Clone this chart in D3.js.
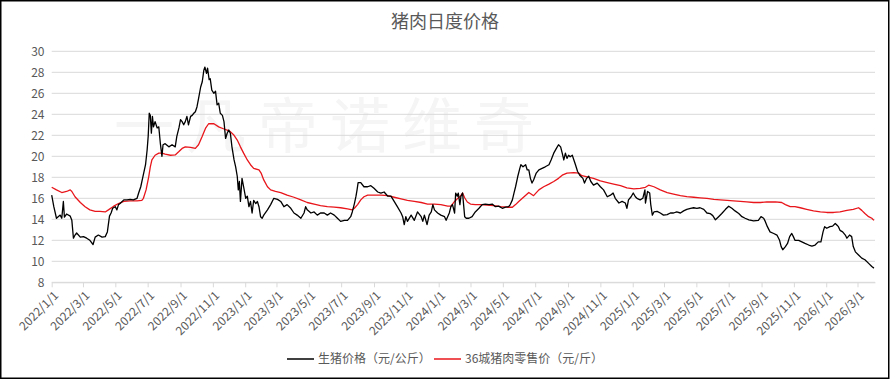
<!DOCTYPE html>
<html><head><meta charset="utf-8">
<script src="https://cdn.jsdelivr.net/npm/d3@7"></script>
<style>body{margin:0;background:#fff}svg{display:block}</style>
</head><body>
<svg id="c" width="890" height="379"></svg>
<script>
const chartTitle = "猪肉日度价格";
const watermark = "一凡帝诺维奇";
const baseDate = "2022-01-01";           // day 0 of the day offsets below
const axisEndDay = 1553;
const seriesNames = ["生猪价格（元/公斤）", "36城猪肉零售价（元/斤）"];
const yTicks = [8, 10, 12, 14, 16, 18, 20, 22, 24, 26, 28, 30];
const xTickLabels = ["2022/1/1","2022/3/1","2022/5/1","2022/7/1","2022/9/1","2022/11/1",
  "2023/1/1","2023/3/1","2023/5/1","2023/7/1","2023/9/1","2023/11/1",
  "2024/1/1","2024/3/1","2024/5/1","2024/7/1","2024/9/1","2024/11/1",
  "2025/1/1","2025/3/1","2025/5/1","2025/7/1","2025/9/1","2025/11/1",
  "2026/1/1","2026/3/1"];

// [day offset from baseDate, 生猪价格 元/公斤]
const hogPoints = [
[0,16.3],[4,15.2],[9,14.1],[16,14.4],[19,14.1],[22,15.7],[24,14.2],[28,14.5],[35,14.3],[38,13.9],
[41,12.2],[44,12.5],[47,12.7],[54,12.3],[60,12.35],[66,12.2],[72,12.0],[78,11.6],[82,12.3],[88,12.5],
[95,12.3],[101,12.35],[105,12.8],[109,14.3],[112,14.6],[115,15.05],[120,15.2],[123,14.9],[126,15.4],[129,15.5],
[136,15.85],[142,15.85],[148,15.9],[154,15.85],[161,16.0],[164,16.5],[168,17.1],[172,18.05],[177,19.2],[180,20.6],
[182,21.9],[184,24.1],[186,23.9],[188,22.2],[190,23.8],[192,22.8],[195,23.3],[199,22.7],[202,22.8],[205,21.2],
[208,20.0],[210,21.1],[214,21.2],[221,20.9],[227,21.1],[233,20.9],[236,21.9],[240,22.7],[243,23.5],[246,23.3],
[249,23.0],[252,23.3],[255,23.8],[258,23.0],[262,23.8],[265,23.9],[268,24.1],[271,24.25],[274,24.7],[277,25.5],
[281,26.6],[284,27.1],[287,28.2],[289,28.5],[292,27.9],[294,28.4],[297,27.3],[299,27.4],[302,26.3],[306,26.0],
[309,26.2],[312,24.9],[315,25.05],[318,24.1],[322,23.9],[325,23.3],[328,21.7],[331,22.2],[334,22.5],[337,22.2],
[340,20.9],[344,19.65],[347,19.0],[350,18.1],[352,16.8],[354,17.6],[356,15.7],[359,17.9],[362,17.1],[366,16.0],
[369,16.2],[372,15.2],[375,15.7],[378,14.6],[381,15.8],[385,15.5],[388,15.7],[391,15.2],[394,14.25],[397,14.1],
[400,14.4],[407,14.9],[413,15.4],[419,16.0],[426,15.9],[432,15.7],[438,15.2],[444,15.4],[451,15.05],[457,14.6],
[463,14.4],[470,14.1],[476,14.6],[479,15.2],[482,14.9],[489,14.6],[495,14.7],[501,14.4],[507,14.6],[514,14.6],
[520,14.4],[526,14.6],[533,14.4],[539,14.1],[545,13.8],[552,13.9],[558,13.9],[564,14.25],[567,14.7],[571,15.5],
[574,16.2],[576,16.8],[578,17.5],[583,17.5],[589,17.1],[596,17.1],[602,17.2],[608,16.95],[615,16.6],[621,16.5],
[627,16.6],[634,16.2],[640,16.2],[646,15.7],[652,15.2],[659,14.6],[662,14.25],[665,13.5],[668,14.25],[671,13.8],
[678,14.4],[684,13.9],[690,14.7],[697,14.25],[700,13.8],[703,14.4],[708,13.5],[712,14.4],[716,14.7],[719,15.4],
[722,14.9],[728,14.6],[734,14.4],[741,14.25],[744,13.9],[750,14.6],[753,15.2],[756,15.4],[760,14.6],[762,16.5],
[765,16.2],[767,16.5],[770,15.4],[772,16.2],[775,16.5],[779,14.25],[782,14.1],[787,14.1],[793,14.25],[799,14.7],
[806,15.05],[812,15.4],[818,15.45],[825,15.4],[831,15.45],[837,15.2],[843,15.25],[850,15.05],[856,15.15],[862,15.2],
[865,15.4],[869,15.85],[872,16.5],[875,17.1],[879,18.05],[883,18.85],[885,19.2],[889,19.0],[894,19.2],[897,18.7],
[900,18.7],[903,17.9],[906,17.45],[909,17.75],[914,18.4],[919,18.7],[925,18.85],[931,19.0],[938,19.2],[942,19.65],
[947,20.3],[952,20.75],[956,21.1],[960,20.9],[963,20.3],[966,19.65],[969,20.3],[972,19.8],[975,20.1],[978,19.95],
[982,20.1],[985,19.65],[988,19.2],[992,18.55],[996,18.2],[999,18.05],[1002,17.9],[1005,17.45],[1009,17.9],[1013,18.1],
[1017,17.6],[1022,17.25],[1029,17.45],[1035,17.1],[1041,16.8],[1048,16.15],[1054,16.3],[1059,16.5],[1063,16.0],[1070,15.55],
[1076,15.7],[1082,15.55],[1085,15.05],[1088,15.85],[1093,16.15],[1097,16.5],[1101,16.15],[1104,16.0],[1110,15.85],[1115,16.0],
[1119,16.8],[1120,15.55],[1124,16.65],[1128,16.5],[1130,15.4],[1133,14.4],[1136,14.7],[1142,14.75],[1148,14.6],[1154,14.4],
[1161,14.45],[1167,14.6],[1173,14.6],[1179,14.7],[1186,14.6],[1192,14.8],[1198,14.95],[1205,15.05],[1211,15.1],[1217,15.05],
[1223,15.1],[1230,14.95],[1236,14.6],[1242,14.55],[1247,14.35],[1252,13.95],[1258,14.25],[1264,14.55],[1271,14.95],[1277,15.25],
[1283,15.05],[1289,14.8],[1296,14.55],[1302,14.25],[1308,14.1],[1315,13.95],[1324,13.85],[1333,13.9],[1338,14.25],[1343,14.1],
[1346,13.8],[1350,13.3],[1355,12.8],[1362,12.65],[1368,12.5],[1373,12.0],[1376,11.4],[1379,11.1],[1384,11.4],[1388,11.7],
[1392,12.35],[1396,12.65],[1399,12.35],[1402,12.0],[1409,12.0],[1415,11.85],[1421,11.7],[1428,11.55],[1434,11.45],[1440,11.55],
[1446,11.85],[1451,11.85],[1455,12.8],[1458,13.3],[1462,13.15],[1468,13.3],[1473,13.35],[1478,13.6],[1481,13.45],[1484,13.3],
[1487,12.95],[1492,12.8],[1497,12.5],[1500,12.2],[1505,12.5],[1509,12.35],[1512,11.4],[1516,10.9],[1522,10.6],[1528,10.3],
[1534,10.15],[1541,9.8],[1547,9.5],[1551,9.35]
];

// [day offset from baseDate, 36城猪肉零售价 元/斤]
const retailPoints = [
[0,17.05],[9,16.8],[19,16.55],[28,16.65],[35,16.8],[38,16.65],[44,16.15],[54,15.6],[63,15.2],[72,14.9],
[82,14.75],[91,14.75],[101,14.7],[107,14.9],[117,15.25],[126,15.5],[136,15.7],[148,15.75],[161,15.75],[170,15.8],
[173,16.0],[178,16.8],[183,18.05],[186,19.0],[189,19.65],[195,20.1],[202,20.3],[208,20.3],[214,20.2],[224,20.1],
[233,20.13],[240,20.45],[246,20.75],[252,20.9],[262,20.85],[271,20.75],[277,21.1],[284,21.9],[290,22.65],[296,23.1],
[306,23.1],[315,22.8],[325,22.6],[331,22.5],[337,22.35],[344,22.0],[350,21.55],[356,20.9],[362,20.3],[369,19.65],
[375,19.2],[381,18.85],[391,18.7],[395,18.4],[400,17.75],[407,17.1],[413,16.8],[422,16.65],[432,16.55],[444,16.3],
[457,16.1],[470,15.85],[482,15.6],[495,15.45],[507,15.3],[520,15.2],[533,15.15],[545,15.1],[558,15.0],[567,14.9],
[571,15.05],[577,15.4],[583,15.85],[589,16.15],[596,16.3],[608,16.3],[621,16.3],[634,16.25],[646,16.1],[659,15.95],
[671,15.8],[684,15.7],[697,15.6],[709,15.45],[722,15.45],[734,15.4],[747,15.25],[753,15.25],[760,15.7],[766,16.0],
[771,16.2],[775,16.5],[779,16.05],[784,15.65],[790,15.45],[799,15.4],[809,15.4],[821,15.35],[834,15.3],[847,15.2],
[859,15.15],[869,15.15],[875,15.4],[881,15.7],[891,16.15],[900,16.55],[909,16.25],[919,16.8],[928,17.1],[938,17.35],
[947,17.6],[956,17.9],[963,18.2],[972,18.4],[985,18.45],[994,18.4],[1000,18.15],[1010,18.05],[1022,17.9],[1035,17.65],
[1048,17.5],[1060,17.35],[1073,17.2],[1085,17.0],[1098,16.9],[1110,16.95],[1120,17.05],[1126,17.25],[1136,17.1],[1148,16.8],
[1161,16.55],[1173,16.4],[1186,16.25],[1198,16.15],[1211,16.1],[1223,16.05],[1236,16.0],[1249,15.9],[1261,15.85],[1274,15.8],
[1286,15.75],[1299,15.7],[1311,15.65],[1324,15.6],[1337,15.6],[1349,15.65],[1365,15.65],[1377,15.6],[1384,15.4],[1393,15.2],
[1402,15.2],[1412,15.1],[1424,14.95],[1437,14.8],[1450,14.7],[1462,14.65],[1475,14.65],[1487,14.7],[1500,14.85],[1512,14.95],
[1522,15.1],[1528,14.85],[1534,14.55],[1541,14.25],[1547,14.1],[1551,13.9]
];

const seriesColors = ["#000000", "#e8161b"];

const svg = d3.select("#c");
const W = 890, H = 379;
const font = "'Noto Sans CJK SC', 'Microsoft YaHei', sans-serif";
const textColor = "#595959";
const base = d3.timeParse("%Y-%m-%d")(baseDate);
const dayToDate = d => d3.timeDay.offset(base, d);
const parseTick = d3.timeParse("%Y/%m/%d");

const x = d3.scaleTime().domain([base, dayToDate(axisEndDay)]).range([51.7, 875]);
const y = d3.scaleLinear().domain([8, 30]).range([282.3, 51.3]);

svg.append("rect").attr("width", W).attr("height", H).attr("fill", "#fff");

// watermark
svg.append("text").attr("x", 330).attr("y", 148).attr("text-anchor", "middle")
  .attr("font-family", font).attr("font-size", 60).attr("letter-spacing", 12)
  .attr("fill", "#f5f5f5").text(watermark);

// title
svg.append("text").attr("x", 445).attr("y", 28).attr("text-anchor", "middle")
  .attr("font-family", font).attr("font-size", 18).attr("fill", textColor).text(chartTitle);

// gridlines
svg.append("g").selectAll("line").data(yTicks).join("line")
  .attr("x1", 51.7).attr("x2", 875).attr("y1", d => y(d)).attr("y2", d => y(d))
  .attr("stroke", "#d9d9d9").attr("stroke-width", 1);

// y labels
svg.append("g").selectAll("text").data(yTicks).join("text")
  .attr("x", 44.5).attr("y", d => y(d)).attr("dy", "0.35em").attr("text-anchor", "end")
  .attr("font-family", font).attr("font-size", 12).attr("fill", textColor).text(d => d);

// x axis
const tickDates = xTickLabels.map(parseTick);
const xAxis = d3.axisBottom(x).tickValues(tickDates).tickSize(5).tickSizeOuter(0)
  .tickFormat((d, i) => xTickLabels[i]);
const gx = svg.append("g").attr("transform", `translate(0,${y(8)})`).call(xAxis);
gx.select(".domain").attr("stroke", "#d9d9d9");
gx.selectAll(".tick line").attr("stroke", "#d9d9d9");
gx.selectAll(".tick text")
  .attr("font-family", font).attr("font-size", 12).attr("fill", textColor)
  .attr("text-anchor", "end").attr("dy", "0.35em")
  .attr("transform", "translate(4,11) rotate(-45)").attr("y", 0).attr("x", 0);

// lines
const line = d3.line().x(d => x(dayToDate(d[0]))).y(d => y(d[1]));
svg.append("path").datum(retailPoints).attr("d", line).attr("fill", "none")
  .attr("stroke", seriesColors[1]).attr("stroke-width", 1.3).attr("stroke-linejoin", "round");
svg.append("path").datum(hogPoints).attr("d", line).attr("fill", "none")
  .attr("stroke", seriesColors[0]).attr("stroke-width", 1.3).attr("stroke-linejoin", "round");

// legend
const legendItems = [{x: 287, tx: 318}, {x: 434, tx: 465}];
legendItems.forEach((it, i) => {
  svg.append("line").attr("x1", it.x).attr("x2", it.x + 27).attr("y1", 359).attr("y2", 359)
    .attr("stroke", seriesColors[i]).attr("stroke-width", 1.5);
  svg.append("text").attr("x", it.tx).attr("y", 359).attr("dy", "0.35em")
    .attr("font-family", font).attr("font-size", 12).attr("fill", textColor).text(seriesNames[i]);
});

// border
svg.append("rect").attr("x", 0.75).attr("y", 0.75).attr("width", W - 2).attr("height", H - 1.5)
  .attr("fill", "none").attr("stroke", "#000").attr("stroke-width", 1.5);
</script>
</body></html>
